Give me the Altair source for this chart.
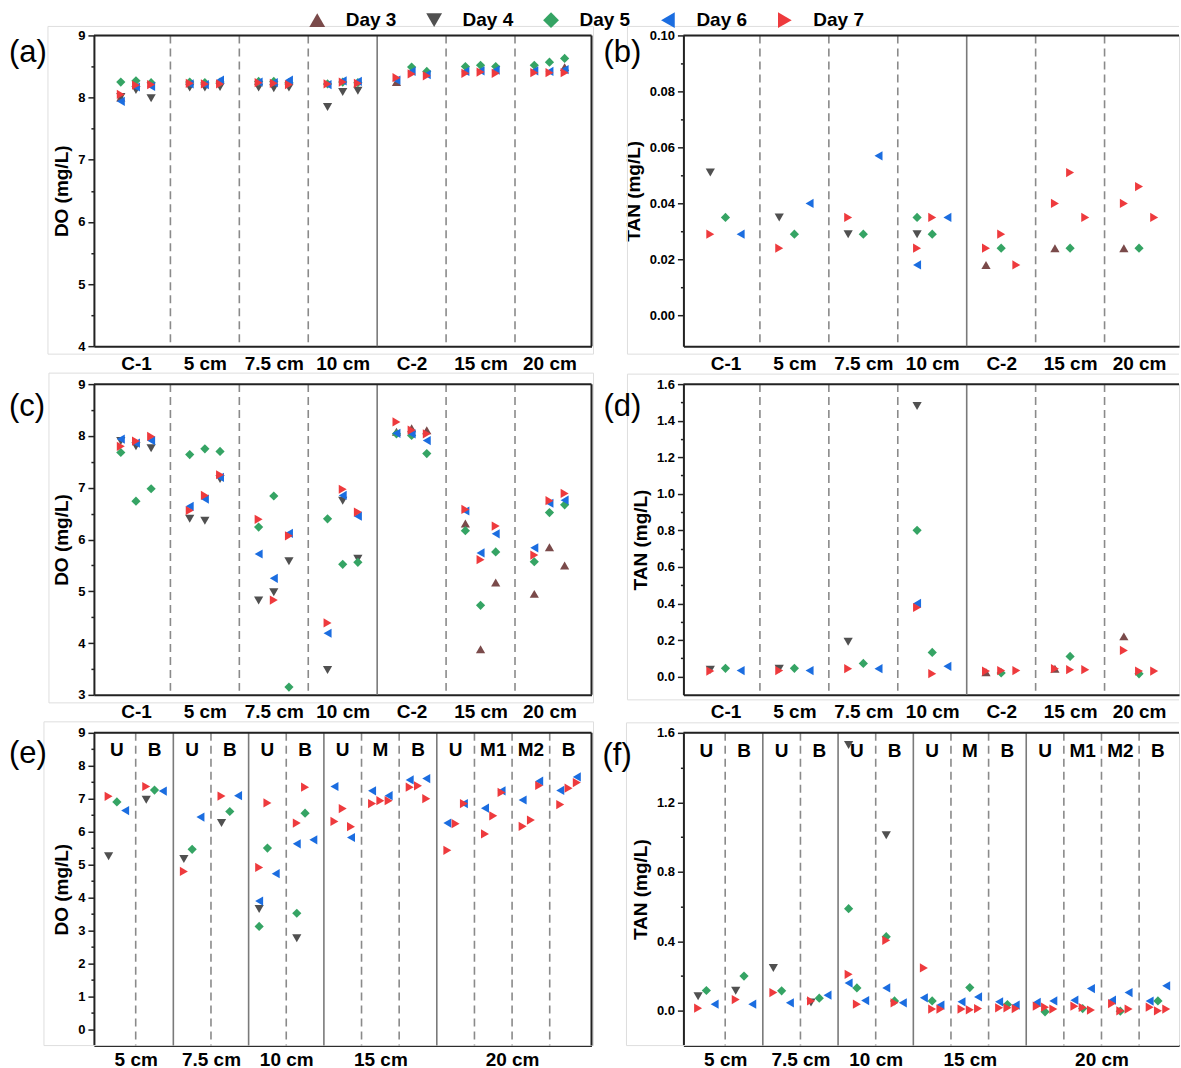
import altair as alt
import pandas as pd

FONT = "Liberation Sans"
INK = "#222222"
FAINT = "#dedede"

DAY_NAMES = ["Day 3", "Day 4", "Day 5", "Day 6", "Day 7"]
DAY_SHAPES = ["triangle-up", "triangle-down", "diamond", "triangle-left", "triangle-right"]
DAY_COLORS = ["#7a4a4a", "#505050", "#35a464", "#1b6de0", "#ee3a3d"]
REP_X = [0.28, 0.50, 0.72]

TOP_GROUPS = ["C-1", "5 cm", "7.5 cm", "10 cm", "C-2", "15 cm", "20 cm"]
TOP_SOLID = [4]
BOTTOM_DEPTHS = ["5 cm", "7.5 cm", "10 cm", "15 cm", "20 cm"]
BOTTOM_SPANS = [2, 2, 2, 3, 4]
BOTTOM_SUBS = ["U", "B", "U", "B", "U", "B", "U", "M", "B", "U", "M1", "M2", "B"]

# (group, replicate, day, value)
DO_TOP = [
    (0, 1, 3, 8.00), (0, 1, 4, 8.01), (0, 1, 5, 8.25), (0, 1, 6, 7.94), (0, 1, 7, 8.05),
    (0, 2, 4, 8.12), (0, 2, 5, 8.27), (0, 2, 6, 8.17), (0, 2, 7, 8.20),
    (0, 3, 4, 7.99), (0, 3, 5, 8.24), (0, 3, 6, 8.18), (0, 3, 7, 8.21),
    (1, 1, 4, 8.16), (1, 1, 5, 8.25), (1, 1, 6, 8.22), (1, 1, 7, 8.23),
    (1, 2, 4, 8.16), (1, 2, 5, 8.24), (1, 2, 6, 8.21), (1, 2, 7, 8.22),
    (1, 3, 4, 8.17), (1, 3, 5, 8.25), (1, 3, 6, 8.28), (1, 3, 7, 8.22),
    (2, 1, 4, 8.16), (2, 1, 5, 8.26), (2, 1, 6, 8.25), (2, 1, 7, 8.24),
    (2, 2, 4, 8.15), (2, 2, 5, 8.26), (2, 2, 6, 8.24), (2, 2, 7, 8.23),
    (2, 3, 4, 8.16), (2, 3, 5, 8.24), (2, 3, 6, 8.28), (2, 3, 7, 8.21),
    (3, 1, 4, 7.85), (3, 1, 5, 8.22), (3, 1, 6, 8.21), (3, 1, 7, 8.22),
    (3, 2, 4, 8.09), (3, 2, 5, 8.25), (3, 2, 6, 8.27), (3, 2, 7, 8.25),
    (3, 3, 4, 8.11), (3, 3, 5, 8.24), (3, 3, 6, 8.26), (3, 3, 7, 8.23),
    (4, 1, 3, 8.25), (4, 1, 6, 8.28), (4, 1, 7, 8.32),
    (4, 2, 5, 8.49), (4, 2, 6, 8.42), (4, 2, 7, 8.38),
    (4, 3, 5, 8.42), (4, 3, 6, 8.37), (4, 3, 7, 8.35),
    (5, 1, 5, 8.50), (5, 1, 6, 8.42), (5, 1, 7, 8.39),
    (5, 2, 5, 8.52), (5, 2, 6, 8.43), (5, 2, 7, 8.41),
    (5, 3, 5, 8.50), (5, 3, 6, 8.44), (5, 3, 7, 8.39),
    (6, 1, 5, 8.52), (6, 1, 6, 8.43), (6, 1, 7, 8.40),
    (6, 2, 5, 8.57), (6, 2, 6, 8.42), (6, 2, 7, 8.40),
    (6, 3, 3, 8.49), (6, 3, 5, 8.63), (6, 3, 6, 8.45), (6, 3, 7, 8.40),
]

TAN_TOP = [
    (0, 1, 4, 0.051), (0, 1, 7, 0.029), (0, 2, 5, 0.035), (0, 3, 6, 0.029),
    (1, 1, 4, 0.035), (1, 1, 7, 0.024), (1, 2, 5, 0.029), (1, 3, 6, 0.040),
    (2, 1, 4, 0.029), (2, 1, 7, 0.035), (2, 2, 5, 0.029), (2, 3, 6, 0.057),
    (3, 1, 5, 0.035), (3, 1, 4, 0.029), (3, 1, 7, 0.024), (3, 1, 6, 0.018),
    (3, 2, 7, 0.035), (3, 2, 5, 0.029), (3, 3, 6, 0.035),
    (4, 1, 3, 0.018), (4, 1, 7, 0.024), (4, 2, 5, 0.024), (4, 2, 7, 0.029), (4, 3, 7, 0.018),
    (5, 1, 3, 0.024), (5, 1, 7, 0.040), (5, 2, 5, 0.024), (5, 2, 7, 0.051), (5, 3, 7, 0.035),
    (6, 1, 3, 0.024), (6, 1, 7, 0.040), (6, 2, 5, 0.024), (6, 2, 7, 0.046), (6, 3, 7, 0.035),
]

DO_MID = [
    (0, 1, 4, 7.90), (0, 1, 5, 7.68), (0, 1, 6, 7.94), (0, 1, 7, 7.80),
    (0, 2, 4, 7.80), (0, 2, 5, 6.74), (0, 2, 6, 7.86), (0, 2, 7, 7.90),
    (0, 3, 4, 7.76), (0, 3, 5, 6.98), (0, 3, 6, 7.91), (0, 3, 7, 7.99),
    (1, 1, 4, 6.40), (1, 1, 5, 7.64), (1, 1, 6, 6.64), (1, 1, 7, 6.56),
    (1, 2, 4, 6.36), (1, 2, 5, 7.75), (1, 2, 6, 6.78), (1, 2, 7, 6.85),
    (1, 3, 4, 7.17), (1, 3, 5, 7.70), (1, 3, 6, 7.20), (1, 3, 7, 7.25),
    (2, 1, 4, 4.82), (2, 1, 5, 6.24), (2, 1, 6, 5.72), (2, 1, 7, 6.39),
    (2, 2, 4, 4.98), (2, 2, 5, 6.84), (2, 2, 6, 5.25), (2, 2, 7, 4.83),
    (2, 3, 4, 5.58), (2, 3, 5, 3.15), (2, 3, 6, 6.12), (2, 3, 7, 6.07),
    (3, 1, 4, 3.48), (3, 1, 5, 6.40), (3, 1, 6, 4.19), (3, 1, 7, 4.39),
    (3, 2, 4, 6.75), (3, 2, 5, 5.52), (3, 2, 6, 6.85), (3, 2, 7, 6.97),
    (3, 3, 4, 5.63), (3, 3, 5, 5.56), (3, 3, 6, 6.45), (3, 3, 7, 6.53),
    (4, 1, 3, 8.08), (4, 1, 5, 8.04), (4, 1, 6, 8.05), (4, 1, 7, 8.27),
    (4, 2, 3, 8.15), (4, 2, 5, 8.01), (4, 2, 6, 8.04), (4, 2, 7, 8.11),
    (4, 3, 3, 8.11), (4, 3, 5, 7.66), (4, 3, 6, 7.91), (4, 3, 7, 8.04),
    (5, 1, 3, 6.31), (5, 1, 5, 6.17), (5, 1, 6, 6.55), (5, 1, 7, 6.58),
    (5, 2, 3, 3.88), (5, 2, 5, 4.73), (5, 2, 6, 5.74), (5, 2, 7, 5.61),
    (5, 3, 3, 5.17), (5, 3, 5, 5.76), (5, 3, 6, 6.11), (5, 3, 7, 6.26),
    (6, 1, 3, 4.95), (6, 1, 5, 5.57), (6, 1, 6, 5.84), (6, 1, 7, 5.70),
    (6, 2, 3, 5.85), (6, 2, 5, 6.52), (6, 2, 6, 6.70), (6, 2, 7, 6.75),
    (6, 3, 3, 5.50), (6, 3, 5, 6.67), (6, 3, 6, 6.76), (6, 3, 7, 6.89),
]

TAN_MID = [
    (0, 1, 4, 0.038), (0, 1, 7, 0.030), (0, 2, 5, 0.045), (0, 3, 6, 0.033),
    (1, 1, 4, 0.043), (1, 1, 7, 0.033), (1, 2, 5, 0.045), (1, 3, 6, 0.033),
    (2, 1, 4, 0.190), (2, 1, 7, 0.043), (2, 2, 5, 0.072), (2, 3, 6, 0.043),
    (3, 1, 4, 1.480), (3, 1, 5, 0.800), (3, 1, 6, 0.400), (3, 1, 7, 0.378),
    (3, 2, 5, 0.132), (3, 2, 7, 0.016), (3, 3, 6, 0.056),
    (4, 1, 3, 0.024), (4, 1, 7, 0.030), (4, 2, 5, 0.020), (4, 2, 7, 0.033), (4, 3, 7, 0.033),
    (5, 1, 3, 0.043), (5, 1, 7, 0.043), (5, 2, 5, 0.110), (5, 2, 7, 0.038), (5, 3, 7, 0.038),
    (6, 1, 3, 0.220), (6, 1, 7, 0.143), (6, 2, 5, 0.015), (6, 2, 7, 0.030), (6, 3, 7, 0.030),
]

# (sub-column, replicate, day, value)
DO_BOT = [
    (0, 1, 4, 5.25), (0, 1, 7, 7.07), (0, 2, 5, 6.90), (0, 3, 6, 6.64),
    (1, 1, 4, 6.97), (1, 1, 7, 7.37), (1, 2, 5, 7.26), (1, 3, 6, 7.23),
    (2, 1, 4, 5.17), (2, 1, 7, 4.79), (2, 2, 5, 5.46), (2, 3, 6, 6.44),
    (3, 1, 4, 6.26), (3, 1, 7, 7.08), (3, 2, 5, 6.61), (3, 3, 6, 7.09),
    (4, 1, 4, 3.65), (4, 1, 5, 3.12), (4, 1, 6, 3.89), (4, 1, 7, 4.91),
    (4, 2, 5, 5.50), (4, 2, 7, 6.87), (4, 3, 6, 4.72),
    (5, 1, 4, 2.76), (5, 1, 5, 3.52), (5, 1, 6, 5.63), (5, 1, 7, 6.26),
    (5, 2, 5, 6.56), (5, 2, 7, 7.35), (5, 3, 6, 5.75),
    (6, 1, 6, 7.37), (6, 1, 7, 6.31), (6, 2, 7, 6.70), (6, 3, 6, 5.82), (6, 3, 7, 6.15),
    (7, 1, 6, 7.24), (7, 1, 7, 6.85), (7, 2, 7, 6.94), (7, 3, 6, 7.09), (7, 3, 7, 6.94),
    (8, 1, 6, 7.57), (8, 1, 7, 7.35), (8, 2, 7, 7.39), (8, 3, 6, 7.61), (8, 3, 7, 7.00),
    (9, 1, 6, 6.26), (9, 1, 7, 5.43), (9, 2, 7, 6.24), (9, 3, 6, 6.85), (9, 3, 7, 6.85),
    (10, 1, 6, 6.71), (10, 1, 7, 5.93), (10, 2, 7, 6.48), (10, 3, 6, 7.24), (10, 3, 7, 7.19),
    (11, 1, 6, 6.96), (11, 1, 7, 6.16), (11, 2, 7, 6.35), (11, 3, 6, 7.53), (11, 3, 7, 7.40),
    (12, 1, 6, 7.25), (12, 1, 7, 6.82), (12, 2, 7, 7.32), (12, 3, 6, 7.66), (12, 3, 7, 7.49),
]

TAN_BOT = [
    (0, 1, 4, 0.084), (0, 1, 7, 0.015), (0, 2, 5, 0.117), (0, 3, 6, 0.038),
    (1, 1, 4, 0.115), (1, 1, 7, 0.065), (1, 2, 5, 0.200), (1, 3, 6, 0.038),
    (2, 1, 4, 0.247), (2, 1, 7, 0.105), (2, 2, 5, 0.115), (2, 3, 6, 0.046),
    (3, 1, 4, 0.048), (3, 1, 7, 0.057), (3, 2, 5, 0.073), (3, 3, 6, 0.090),
    (4, 1, 4, 1.530), (4, 1, 5, 0.588), (4, 1, 6, 0.160), (4, 1, 7, 0.210),
    (4, 2, 5, 0.132), (4, 2, 7, 0.038), (4, 3, 6, 0.059),
    (5, 1, 4, 1.010), (5, 1, 5, 0.427), (5, 1, 6, 0.132), (5, 1, 7, 0.406),
    (5, 2, 5, 0.057), (5, 2, 7, 0.046), (5, 3, 6, 0.046),
    (6, 1, 6, 0.075), (6, 1, 7, 0.247), (6, 2, 5, 0.057), (6, 2, 7, 0.010), (6, 3, 6, 0.033), (6, 3, 7, 0.010),
    (7, 1, 6, 0.052), (7, 1, 7, 0.010), (7, 2, 5, 0.134), (7, 2, 7, 0.006), (7, 3, 6, 0.080), (7, 3, 7, 0.013),
    (8, 1, 6, 0.052), (8, 1, 7, 0.017), (8, 2, 5, 0.036), (8, 2, 7, 0.017), (8, 3, 6, 0.033), (8, 3, 7, 0.013),
    (9, 1, 6, 0.048), (9, 1, 7, 0.027), (9, 2, 5, -0.006), (9, 2, 7, 0.021), (9, 3, 6, 0.057), (9, 3, 7, 0.010),
    (10, 1, 6, 0.061), (10, 1, 7, 0.027), (10, 2, 5, 0.013), (10, 2, 7, 0.019), (10, 3, 6, 0.128), (10, 3, 7, 0.004),
    (11, 1, 6, 0.061), (11, 1, 7, 0.042), (11, 2, 5, -0.002), (11, 2, 7, 0.000), (11, 3, 6, 0.105), (11, 3, 7, 0.010),
    (12, 1, 6, 0.056), (12, 1, 7, 0.021), (12, 2, 5, 0.057), (12, 2, 7, 0.000), (12, 3, 6, 0.144), (12, 3, 7, 0.010),
]

ONE = pd.DataFrame({"k": [0]})

LEGEND = alt.Legend(
    title=None, orient="none", legendX=214, legendY=-25, direction="horizontal",
    columns=5, symbolSize=250, symbolStrokeWidth=0, symbolOpacity=1,
    labelFont=FONT, labelFontSize=19, labelFontWeight="bold", labelColor="black",
    labelOffset=19, columnPadding=28, padding=0, rowPadding=0, labelLimit=300,
)


def points_df(rows):
    df = pd.DataFrame(rows, columns=["group", "rep", "day", "value"])
    df["x"] = df["group"] + df["rep"].map(lambda r: REP_X[r - 1])
    df["Day"] = df["day"].map(lambda d: f"Day {d}")
    return df.sort_values("day", kind="stable").reset_index(drop=True)


def hline(x1, x2, y, color, w):
    return alt.Chart(ONE).mark_rule(color=color, strokeWidth=w).encode(
        x=alt.value(x1), x2=alt.value(x2), y=alt.value(y))


def vline(x, y1, y2, color, w):
    return alt.Chart(ONE).mark_rule(color=color, strokeWidth=w).encode(
        x=alt.value(x), y=alt.value(y1), y2=alt.value(y2))


def panel(rows, width, height, xmax, centers, labels, n_cols, solid, ydom, yticks,
          ymajor, yfmt, ytitle, tag, tag_xy, box, right_border, label_pad,
          subs=None, sub_y=17, anchor=False):
    df = points_df(rows)
    xs = alt.Scale(domain=[-0.11, xmax], nice=False, zero=False)
    ys = alt.Scale(domain=ydom, nice=False, zero=False)
    lab_expr = ("[" + ",".join(f"'{l}'" for l in labels) + "][indexof(["
                + ",".join(str(c) for c in centers) + "], datum.value)]")
    is_minor = f"abs(datum.value/{ymajor} - round(datum.value/{ymajor})) > 0.001"
    xaxis = alt.Axis(values=centers, labelExpr=lab_expr, title=None, ticks=False,
                     tickSize=0, grid=False, labelAngle=0, labelFont=FONT,
                     labelFontSize=19, labelFontWeight="bold", labelColor="black",
                     labelPadding=label_pad, domainColor=INK, domainWidth=2,
                     labelFlush=False, labelOverlap=False)
    yaxis = alt.Axis(values=yticks, format=yfmt,
                     labelExpr=f"{is_minor} ? '' : datum.label",
                     tickSize={"condition": {"test": is_minor, "value": 3}, "value": 6},
                     tickColor=INK, tickWidth=1.5, domainColor=INK, domainWidth=2,
                     grid=False, labelFont=FONT, labelFontSize=13,
                     labelFontWeight="bold", labelColor="black", labelPadding=3,
                     title=ytitle, titleFont=FONT, titleFontSize=19,
                     titleFontWeight="bold", titleColor="black", titlePadding=6)

    layers = []
    bl, bt, br, bb = box
    right_end = br if br is not None else width
    layers.append(hline(bl, right_end, bt, FAINT, 1))
    layers.append(hline(bl, right_end, bb, FAINT, 1))
    layers.append(vline(bl, bt, bb, FAINT, 1))
    if br is not None:
        layers.append(vline(br, bt, bb, FAINT, 1))

    bounds = list(range(1, n_cols))
    sep = pd.DataFrame({"b": bounds,
                        "kind": ["solid" if b in solid else "dashed" for b in bounds]})
    layers.append(alt.Chart(sep).transform_filter("datum.kind == 'dashed'")
                  .mark_rule(color="#8a8a8a", strokeWidth=1.6, strokeDash=[8, 5])
                  .encode(x=alt.X("b:Q", scale=xs, axis=xaxis),
                          y=alt.value(0), y2=alt.value(height)))
    layers.append(alt.Chart(sep).transform_filter("datum.kind == 'solid'")
                  .mark_rule(color="#7a7a7a", strokeWidth=1.6)
                  .encode(x=alt.X("b:Q", scale=xs, axis=xaxis),
                          y=alt.value(0), y2=alt.value(height)))

    layers.append(hline(0, width, 0, INK, 2))
    if right_border:
        layers.append(vline(width, 0, height, INK, 2))

    if subs is not None:
        sdf = pd.DataFrame({"xc": [i + 0.5 for i in range(len(subs))], "label": subs})
        layers.append(alt.Chart(sdf).mark_text(font=FONT, fontSize=19, fontWeight="bold",
                                               color="black", baseline="middle")
                      .encode(x=alt.X("xc:Q", scale=xs, axis=xaxis),
                              y=alt.value(sub_y), text="label:N"))

    layers.append(alt.Chart(df).mark_point(filled=True, size=85, opacity=1, strokeWidth=0)
                  .encode(x=alt.X("x:Q", scale=xs, axis=xaxis),
                          y=alt.Y("value:Q", scale=ys, axis=yaxis),
                          shape=alt.Shape("Day:N", scale=alt.Scale(domain=DAY_NAMES, range=DAY_SHAPES), legend=LEGEND),
                          color=alt.Color("Day:N", scale=alt.Scale(domain=DAY_NAMES, range=DAY_COLORS), legend=LEGEND)))

    layers.append(alt.Chart(ONE).mark_text(text=tag, font=FONT, fontSize=31, color="black",
                                           align="left", baseline="middle")
                  .encode(x=alt.value(tag_xy[0]), y=alt.value(tag_xy[1])))

    if anchor:
        layers.append(alt.Chart(ONE).mark_point(filled=True, size=4, color="white",
                                                opacity=1, strokeWidth=0)
                      .encode(x=alt.value(-92), y=alt.value(-33)))

    return alt.layer(*layers).properties(width=width, height=height)


def ticks(start, stop, step):
    n = int(round((stop - start) / step))
    return [round(start + i * step, 4) for i in range(n + 1)]


TOP_CENTERS = [i + 0.5 for i in range(len(TOP_GROUPS))]
starts = [sum(BOTTOM_SPANS[:i]) for i in range(len(BOTTOM_SPANS))]
BOT_CENTERS = [s + n / 2 for s, n in zip(starts, BOTTOM_SPANS)]
BOT_SOLID = starts[1:]

pa = panel(DO_TOP, 498, 311, 7.11, TOP_CENTERS, TOP_GROUPS, 7, TOP_SOLID, [4, 9],
           ticks(4, 9, 0.5), 1, ".0f", "DO (mg/L)", "(a)", (-85, 18),
           (-46, -9, 500, 319), True, 8, anchor=True)
pb = panel(TAN_TOP, 496, 311, 7.08, TOP_CENTERS, TOP_GROUPS, 7, TOP_SOLID, [-0.011, 0.10],
           ticks(0, 0.10, 0.01), 0.02, ".2f", "TAN (mg/L)", "(b)", (-80, 18),
           (-56, -9, None, 319), False, 8)
pc = panel(DO_MID, 498, 311, 7.11, TOP_CENTERS, TOP_GROUPS, 7, TOP_SOLID, [3, 9],
           ticks(3, 9, 0.5), 1, ".0f", "DO (mg/L)", "(c)", (-85, 23),
           (-45, -11, 500, 319), True, 8)
pd_ = panel(TAN_MID, 496, 311, 7.08, TOP_CENTERS, TOP_GROUPS, 7, TOP_SOLID, [-0.1, 1.6],
            ticks(0, 1.6, 0.1), 0.2, ".1f", "TAN (mg/L)", "(d)", (-80, 23),
            (-56, -10, None, 316), False, 8)
pe = panel(DO_BOT, 498, 313, 13.11, BOT_CENTERS, BOTTOM_DEPTHS, 13, BOT_SOLID, [-0.5, 9],
           ticks(0, 9, 0.5), 1, ".0f", "DO (mg/L)", "(e)", (-85, 21),
           (-50, -11, 500, 313), True, 5, subs=BOTTOM_SUBS, sub_y=17)
pf = panel(TAN_BOT, 496, 313, 13.06, BOT_CENTERS, BOTTOM_DEPTHS, 13, BOT_SOLID, [-0.2, 1.6],
           ticks(0, 1.6, 0.2), 0.4, ".1f", "TAN (mg/L)", "(f)", (-81, 23),
           (-57, -10, None, 313), False, 5, subs=BOTTOM_SUBS, sub_y=18)

chart = (alt.concat(pa, pb, pc, pd_, pe, pf, columns=2, bounds="flush",
                    spacing=alt.RowColnumber(row=38, column=92))
         .properties(padding={"left": 0, "top": 0, "right": 0, "bottom": 0})
         .configure_view(stroke="transparent")
         .configure(font=FONT, background="white"))

chart.save("out.html", embed_options={"renderer": "svg", "actions": False})
